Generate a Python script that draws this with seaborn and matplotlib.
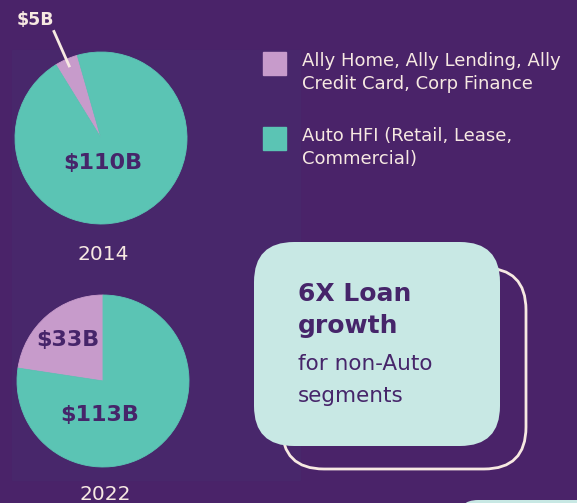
import numpy as np
import matplotlib
matplotlib.use("Agg")
import matplotlib.pyplot as plt
from matplotlib.patches import FancyBboxPatch, Rectangle
import seaborn as sns

# data
years = ["2014", "2022"]
non_auto = [5, 33]        # $B, Ally Home / Lending / Credit Card / Corp Finance
auto_hfi = [110, 113]     # $B, Auto HFI
segments = ["Ally Home, Ally Lending, Ally\nCredit Card, Corp Finance",
            "Auto HFI (Retail, Lease,\nCommercial)"]
callout_head = ["6X Loan", "growth"]
callout_body = ["for non-Auto", "segments"]

sns.set_style("white")
plt.rcParams['font.family'] = ['DejaVu Sans']

BG = "#4A2369"
PANEL = "#48276B"
PINK = "#C79BCB"
TEAL = "#5BC4B4"
DARK = "#46256A"
CREAM = "#F7E9E2"
MINT = "#C8E8E4"
colors = sns.color_palette([PINK, TEAL])

W, H = 577, 503
fig = plt.figure(figsize=(W / 100, H / 100), dpi=100, facecolor=BG)
ax = fig.add_axes([0, 0, 1, 1])
ax.set_facecolor(BG)

def Y(py):
    return H - py

# faint panel behind the pies
ax.add_patch(Rectangle((12, Y(480)), 288, 430, color=PANEL, zorder=0))

centers = [(101, Y(138)), (103, Y(381))]
R = 86
starts = [106, 90]
year_gap = [117, 114]

for i, yr in enumerate(years):
    cx, cy = centers[i]
    wedges, _ = ax.pie([non_auto[i], auto_hfi[i]], colors=colors, startangle=starts[i],
                       center=(cx, cy), radius=R, frame=True,
                       wedgeprops=dict(linewidth=0.6))
    for w in wedges:
        w.set_edgecolor(w.get_facecolor())
    ax.text(cx + 2, cy - year_gap[i], yr, ha="center", va="center",
            fontsize=14.5, color=CREAM)
    mid = np.deg2rad((wedges[0].theta1 + wedges[0].theta2) / 2)
    if i == 0:
        # small slice: label outside with leader line
        p0 = (cx + 0.9 * R * np.cos(mid), cy + 0.9 * R * np.sin(mid))
        p1 = (cx + 1.37 * R * np.cos(mid), cy + 1.37 * R * np.sin(mid))
        ax.plot([p0[0], p1[0]], [p0[1], p1[1]], color=CREAM, lw=2, solid_capstyle="butt")
        ax.text(p1[0] - 18, p1[1] + 10, f"${non_auto[i]}B", ha="center", va="center",
                fontsize=12.5, fontweight="bold", color=CREAM)
        ax.text(cx + 2, cy - 25, f"${auto_hfi[i]}B", ha="center", va="center",
                fontsize=16, fontweight="bold", color=DARK)
    else:
        ax.text(cx + 0.63 * R * np.cos(mid), cy + 0.63 * R * np.sin(mid),
                f"${non_auto[i]}B", ha="center", va="center",
                fontsize=16, fontweight="bold", color=DARK)
        ax.text(cx - 3, cy - 34, f"${auto_hfi[i]}B", ha="center", va="center",
                fontsize=16, fontweight="bold", color=DARK)

# legend
for j, lab in enumerate(segments):
    top = 52 + j * 75
    ax.add_patch(Rectangle((263, Y(top + 23)), 23, 23, color=colors[j], zorder=3))
    for n, line in enumerate(lab.split("\n")):
        ax.text(302, Y(top + 9 + n * 23), line, ha="left", va="center",
                fontsize=13, color=CREAM)

# callout boxes
ax.add_patch(FancyBboxPatch((282, Y(469)), 244, 201,
                            boxstyle="round,pad=0,rounding_size=42",
                            facecolor="none", edgecolor=CREAM, lw=2, zorder=2))
ax.add_patch(FancyBboxPatch((254, Y(446)), 246, 204,
                            boxstyle="round,pad=0,rounding_size=40",
                            facecolor=MINT, edgecolor="none", zorder=3))
ax.add_patch(FancyBboxPatch((458, Y(540)), 200, 40,
                            boxstyle="round,pad=0,rounding_size=20",
                            facecolor=MINT, edgecolor="none", zorder=3))

for k, line in enumerate(callout_head):
    ax.text(298, Y(301 + k * 32), line, ha="left", va="baseline", fontsize=18,
            fontweight="bold", color=DARK, zorder=4)
for k, line in enumerate(callout_body):
    ax.text(298, Y(370 + k * 32), line, ha="left", va="baseline", fontsize=15.5,
            color=DARK, zorder=4)

ax.set_xlim(0, W)
ax.set_ylim(0, H)
ax.set_aspect("equal")
ax.axis("off")

fig.savefig("out.png", dpi=100, facecolor=BG)
